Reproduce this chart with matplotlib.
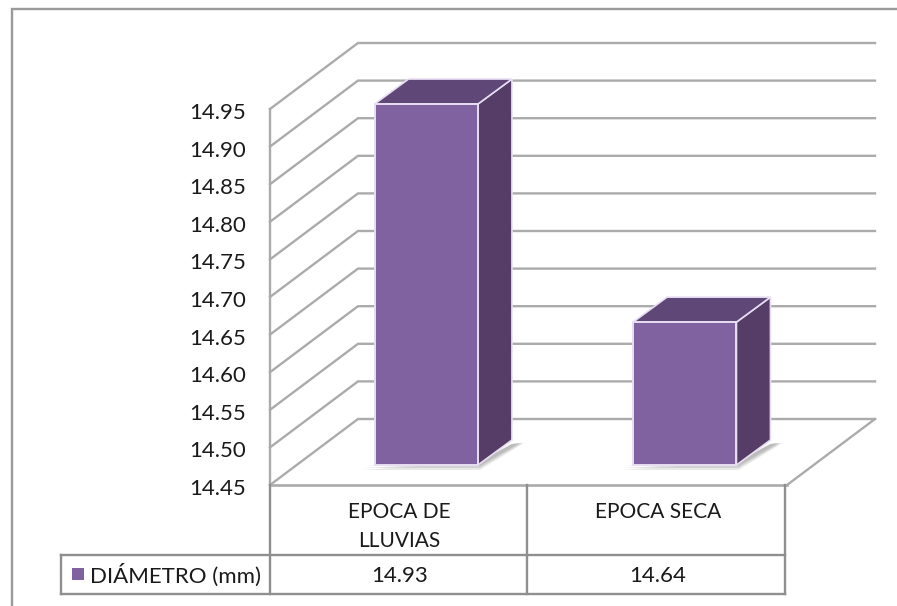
import matplotlib
matplotlib.use("Agg")
import matplotlib.pyplot as plt
from matplotlib.patches import Polygon
from matplotlib.transforms import Affine2D, IdentityTransform

categories = ["EPOCA DE\nLLUVIAS", "EPOCA SECA"]
diametro = [14.93, 14.64]
series_name = "DIÁMETRO (mm)"
y_ticks = [14.45, 14.50, 14.55, 14.60, 14.65, 14.70, 14.75, 14.80, 14.85, 14.90, 14.95]

W, H = 897, 606
GRID = "#ababab"
LINE = "#8f8f8f"
TEXT = "#1a1a1a"
FRONT = "#8062a0"
TOP = "#5f4777"
SIDE = "#553d68"
EDGE = "#e8def2"
BAR_W = 0.4
FS = 16

plt.rcParams["font.family"] = ["Lato", "DejaVu Sans"]
fig = plt.figure(figsize=(W / 100, H / 100), dpi=100)
px = IdentityTransform()

ax = fig.add_axes([270 / W, 1 - 485 / H, 517 / W, 376 / H])
ax.set_xlim(-0.5, 1.5)
ax.set_ylim(y_ticks[0], y_ticks[-1])
ax.axis("off")
x0, x1 = ax.get_xlim()

# walls and floor, 3d offset in pixels
for v in y_ticks:
    front = ax.transData.transform((x0, v))
    ax.plot([front[0], front[0] + 88, 875], [front[1], front[1] + 66, front[1] + 66],
            color=GRID, lw=1.7, clip_on=False, transform=px, solid_joinstyle="miter")
ax.plot([x0, x0], [y_ticks[0], y_ticks[-1]], color=GRID, lw=1.7, clip_on=False)
p0 = ax.transData.transform((x1, y_ticks[0]))
ax.plot([p0[0], p0[0] + 88], [p0[1], p0[1] + 66], color=GRID, lw=1.7, transform=px, clip_on=False)

# bars sit partway back on the floor
base = ax.transData + Affine2D().translate(27, 20)
d = (34, 25)
for i, v in enumerate(diametro):
    left, right = i - BAR_W / 2, i + BAR_W / 2
    bl = base.transform((left, y_ticks[0]))
    br = base.transform((right, y_ticks[0]))
    tl = base.transform((left, v))
    tr = base.transform((right, v))
    # soft shadow on the floor
    for grow, alpha in ((4, 0.25), (2, 0.35), (0, 0.5)):
        ax.add_patch(Polygon([(bl[0] - 8 - grow, bl[1] - 1 - grow), (br[0] + 2, br[1] - 1 - grow),
                              (br[0] + d[0] + 8 + grow, br[1] + d[1] - 3),
                              (br[0] + d[0], br[1] + d[1] - 4), (br[0], br[1] + 3)],
                             closed=True, fc="#a8a8a8", ec="none", alpha=alpha,
                             transform=px, clip_on=False, zorder=3))
    ax.add_patch(Polygon([br, tr, tr + d, br + d], closed=True, fc=SIDE, ec=EDGE, lw=1.2,
                         transform=px, clip_on=False, zorder=4))
    ax.add_patch(Polygon([tl, tr, tr + d, tl + d], closed=True, fc=TOP, ec=EDGE, lw=1.2,
                         transform=px, clip_on=False, zorder=4))
    ax.bar(i, v - y_ticks[0], width=BAR_W, bottom=y_ticks[0], color=FRONT, edgecolor=EDGE, lw=1.4,
           transform=base, clip_on=False, zorder=5)

# tick labels
for v in y_ticks:
    ax.annotate(f"{v:.2f}", (x0, v), xytext=(-24, -4), textcoords="offset pixels", ha="right", va="center",
                fontsize=FS, color=TEXT, annotation_clip=False)

# frame and data table, in image pixels
tab = fig.add_axes([0, 0, 1, 1])
tab.set_xlim(0, W)
tab.set_ylim(H, 0)
tab.axis("off")
tab.patch.set_alpha(0)
tab.plot([12, 12, W], [H, 8.5, 8.5], color="#9a9a9a", lw=1.7, solid_joinstyle="miter")
tab.plot([270, 787], [485, 485], color=GRID, lw=1.9)
tab.plot([61, 785], [555, 555], color=LINE, lw=1.7)
tab.plot([61, 785], [594, 594], color=LINE, lw=1.7)
tab.plot([61, 61], [555, 594], color=LINE, lw=1.7)
for xv in (270, 527, 785):
    tab.plot([xv, xv], [485, 594], color=LINE, lw=1.7)
tab.scatter([77.5], [574], marker="s", s=68, color=FRONT, linewidths=0)
tab.text(90, 575, series_name, fontsize=FS, va="center", color=TEXT)
for i, (c, v) in enumerate(zip(categories, diametro)):
    xc = ax.transData.transform((i, 0))[0]
    tab.text(xc, 502, c, fontsize=15, ha="center", va="top", color=TEXT, linespacing=1.55)
    tab.text(xc, 575.5, f"{v:.2f}", fontsize=FS, ha="center", va="center", color=TEXT)

fig.savefig("out.png", dpi=100)
